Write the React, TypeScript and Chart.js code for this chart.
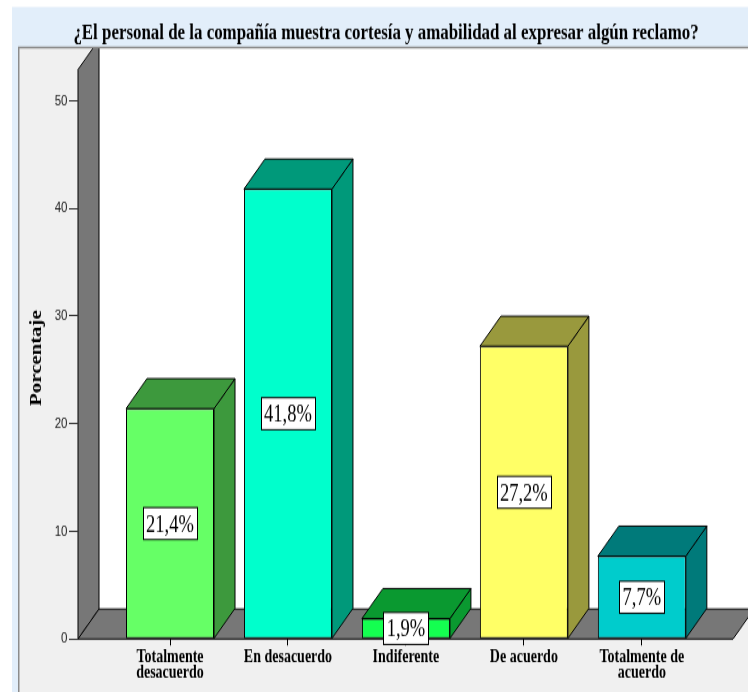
import React, { useEffect, useRef } from 'react';
import { Chart, registerables } from 'chart.js';

Chart.register(...registerables);

// ---- data ----
const chartTitle = '¿El personal de la compañía muestra cortesía y amabilidad al expresar algún reclamo?';
const yAxisTitle = 'Porcentaje';
const categories: string[][] = [
  ['Totalmente', 'desacuerdo'],
  ['En desacuerdo'],
  ['Indiferente'],
  ['De acuerdo'],
  ['Totalmente de', 'acuerdo'],
];
const percentages = [21.4, 41.8, 1.9, 27.2, 7.7];
const yTicks = [0, 10, 20, 30, 40, 50];

// ---- styles ----
const frontColors = ['#66ff66', '#00ffcc', '#14ff50', '#ffff66', '#00cccc'];
const sideColors = ['#3d993d', '#00997a', '#0a9930', '#99993d', '#007a7a'];

// The drawing buffer is shorter than the displayed canvas; CSS stretches it vertically.
const W = 748;
const PAGE_H = 692;
const H = 532;
const SY = H / PAGE_H;
const py = (v: number) => v * SY;

const DEPTH_X = 21;
const DEPTH_Y = py(-30);
const WALL_TOP = 52.9;
const TITLE_SIZE = 16.9;
const TITLE_LINE = TITLE_SIZE * 1.2;
const TITLE_PAD_TOP = py(33) - TITLE_LINE / 2;
const TITLE_PAD_BOTTOM = py(48) - TITLE_PAD_TOP - TITLE_LINE;

const formatPct = (v: number) => v.toFixed(1).replace('.', ',') + '%';

function poly(ctx: CanvasRenderingContext2D, pts: number[][]) {
  ctx.beginPath();
  ctx.moveTo(pts[0][0], pts[0][1]);
  for (let i = 1; i < pts.length; i++) ctx.lineTo(pts[i][0], pts[i][1]);
  ctx.closePath();
  ctx.fill();
  ctx.stroke();
}

const scenePlugin = {
  id: 'scene3d',
  beforeDraw(chart: any) {
    const { ctx, chartArea: a, scales } = chart;
    const yS = scales.y;
    ctx.save();
    ctx.fillStyle = '#ffffff';
    ctx.fillRect(0, 0, W, H);
    ctx.fillStyle = '#e2eefa';
    ctx.fillRect(12, py(7), W - 12, H - py(7));
    ctx.fillStyle = '#f0f0f0';
    ctx.fillRect(18, py(47), W - 18, H - py(47));

    const base = yS.getPixelForValue(0);
    const backL = a.left + DEPTH_X;
    const backB = base + DEPTH_Y;
    ctx.fillStyle = '#ffffff';
    ctx.fillRect(backL, a.top, W - backL, backB - a.top);

    ctx.save();
    ctx.beginPath();
    ctx.rect(0, a.top, W, H - a.top);
    ctx.clip();
    ctx.lineWidth = 1;
    ctx.strokeStyle = '#000';
    ctx.lineJoin = 'miter';
    ctx.fillStyle = '#777777';
    const wallTop = yS.getPixelForValue(WALL_TOP);
    poly(ctx, [[a.left, base], [a.left, wallTop], [backL, wallTop + DEPTH_Y], [backL, backB]]);
    const floorR = a.right - 15;
    poly(ctx, [[a.left, base], [floorR, base], [floorR + DEPTH_X, backB], [backL, backB]]);
    ctx.restore();

    // panel frame
    ctx.strokeStyle = '#8c8c8c';
    ctx.lineWidth = 1.5;
    ctx.beginPath();
    ctx.moveTo(18.75, H);
    ctx.lineTo(18.75, py(47.5));
    ctx.lineTo(W, py(47.5));
    ctx.stroke();
    ctx.restore();
  },
  afterDatasetsDraw(chart: any) {
    const { ctx } = chart;
    const meta = chart.getDatasetMeta(0);
    ctx.save();
    ctx.lineWidth = 1;
    ctx.strokeStyle = '#000';
    meta.data.forEach((bar: any, i: number) => {
      const { x, y, base, width } = bar.getProps(['x', 'y', 'base', 'width'], true);
      const l = x - width / 2;
      const r = x + width / 2;
      ctx.fillStyle = sideColors[i];
      poly(ctx, [[r, y], [r + DEPTH_X, y + DEPTH_Y], [r + DEPTH_X, base + DEPTH_Y], [r, base]]);
      poly(ctx, [[l, y], [l + DEPTH_X, y + DEPTH_Y], [r + DEPTH_X, y + DEPTH_Y], [r, y]]);
    });

    // value boxes
    const fs = 18.5;
    ctx.font = `${fs}px "Liberation Serif", "Times New Roman", serif`;
    ctx.textAlign = 'center';
    ctx.textBaseline = 'alphabetic';
    meta.data.forEach((bar: any, i: number) => {
      const { x, y, base } = bar.getProps(['x', 'y', 'base'], true);
      const text = formatPct(percentages[i]);
      const cy = (y + base) / 2;
      const bw = Math.round(ctx.measureText(text).width + 6);
      const bh = py(32);
      const bx = Math.round(x - bw / 2) + 0.5;
      const by = cy - bh / 2;
      ctx.fillStyle = '#ffffff';
      ctx.fillRect(bx, by, bw, bh);
      ctx.strokeRect(bx, by, bw, bh);
      ctx.fillStyle = '#000';
      ctx.fillText(text, x, cy + fs * 0.33);
    });
    ctx.restore();
  },
  afterDraw(chart: any) {
    const { ctx } = chart;
    ctx.save();
    ctx.translate(41, py(358));
    ctx.rotate(-Math.PI / 2);
    ctx.font = 'bold 16px "Liberation Serif", "Times New Roman", serif';
    ctx.textAlign = 'center';
    ctx.textBaseline = 'alphabetic';
    ctx.fillStyle = '#000';
    ctx.fillText(yAxisTitle, 0, 0);
    ctx.restore();
  },
};

export default function App() {
  const canvasRef = useRef<HTMLCanvasElement | null>(null);

  useEffect(() => {
    const canvas = canvasRef.current;
    if (!canvas) return;
    const chart = new Chart(canvas, {
      type: 'bar',
      data: {
        datasets: [
          {
            data: percentages.map((v, i) => ({ x: i, y: v })),
            backgroundColor: frontColors,
            borderColor: '#000',
            borderWidth: 1,
            borderSkipped: false,
            barPercentage: 0.746,
            categoryPercentage: 1,
          },
        ],
      },
      options: {
        responsive: false,
        maintainAspectRatio: false,
        animation: false,
        devicePixelRatio: 1,
        events: [],
        layout: { padding: { left: 24, right: 0, top: 0, bottom: 0 } },
        plugins: {
          legend: { display: false },
          tooltip: { enabled: false },
          title: {
            display: true,
            text: chartTitle,
            color: '#000',
            font: { family: '"Liberation Serif", "Times New Roman", serif', size: TITLE_SIZE, weight: 'bold', lineHeight: 1.2 },
            padding: { top: TITLE_PAD_TOP, bottom: TITLE_PAD_BOTTOM },
          },
        },
        scales: {
          x: {
            type: 'linear',
            min: -0.78,
            max: 4.9,
            offset: false,
            afterFit: (s: any) => {
              s.height = H - py(639);
            },
            afterBuildTicks: (s: any) => {
              s.ticks = categories.map((_, i) => ({ value: i }));
            },
            grid: { offset: false, drawOnChartArea: false, drawTicks: true, tickLength: 5, color: '#000' },
            border: { display: false },
            ticks: {
              autoSkip: false,
              maxRotation: 0,
              minRotation: 0,
              padding: 3.85,
              color: '#000',
              font: { family: '"Liberation Serif", "Times New Roman", serif', size: 14, weight: 'bold', lineHeight: 0.82 },
              callback: (v: any) => categories[v as number] ?? '',
            },
          },
          y: {
            min: 0,
            max: 54.9,
            afterFit: (s: any) => {
              s.width = 54;
            },
            afterBuildTicks: (s: any) => {
              s.ticks = yTicks.map((v) => ({ value: v }));
            },
            grid: { drawOnChartArea: false, drawTicks: true, tickLength: 9, color: '#333' },
            border: { display: false },
            ticks: {
              padding: 1.5,
              color: '#222',
              font: { family: '"Liberation Sans", Arial, sans-serif', size: 11.5 },
            },
          },
        },
      } as any,
      plugins: [scenePlugin],
    });
    return () => chart.destroy();
  }, []);

  return (
    <div style={{ position: 'fixed', left: 0, top: 0, width: W, height: PAGE_H, background: '#fff' }}>
      <canvas
        ref={canvasRef}
        width={W}
        height={H}
        style={{ display: 'block', width: `${W}px`, height: `${PAGE_H}px` }}
      />
    </div>
  );
}
